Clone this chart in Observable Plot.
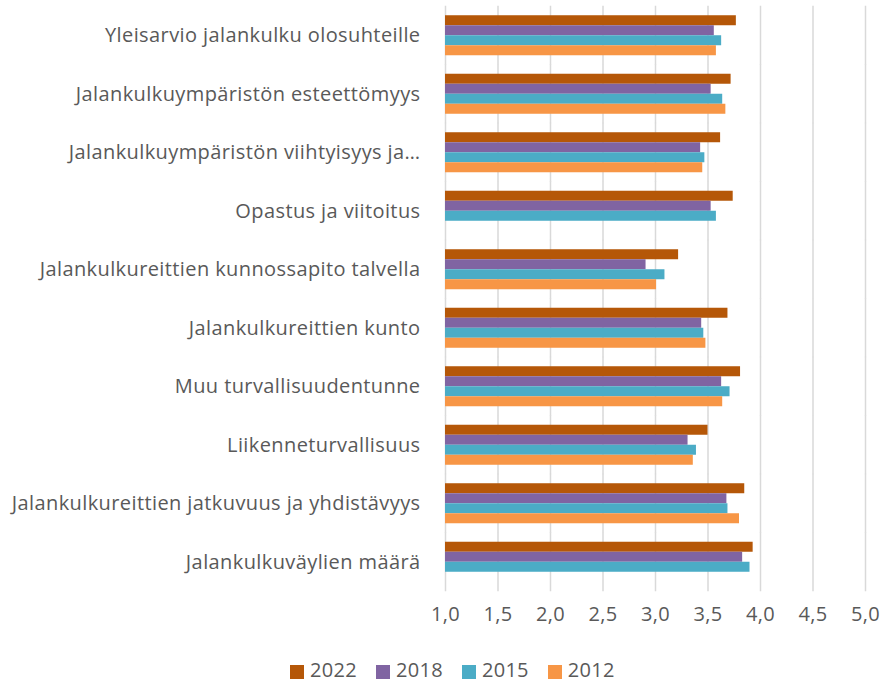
<!DOCTYPE html>
<html>
<head>
<meta charset="utf-8">
<script src="https://cdn.jsdelivr.net/npm/d3@7"></script>
<script src="https://cdn.jsdelivr.net/npm/@observablehq/plot@0.6"></script>
<style>
  html, body { margin: 0; padding: 0; background: #fff; overflow: hidden; }
  #wrap { position: relative; width: 883px; height: 684px; font-family: "Open Sans", sans-serif; }
  #chart svg text { letter-spacing: 0.4px; }
  #legend { position: absolute; top: 661px; left: 290px; height: 18px; line-height: 18px; display: flex; align-items: center; font-size: 20px; color: #595959; letter-spacing: 0.3px; }
  #legend .item { display: flex; align-items: center; margin-right: 19px; }
  #legend .sw { width: 14px; height: 14px; margin-right: 6px; margin-top: 3px; }
</style>
</head>
<body>
<div id="wrap"><div id="chart"></div><div id="legend"></div></div>
<script>
const categories = [
  "Yleisarvio jalankulku olosuhteille",
  "Jalankulkuympäristön esteettömyys",
  "Jalankulkuympäristön viihtyisyys ja…",
  "Opastus ja viitoitus",
  "Jalankulkureittien kunnossapito talvella",
  "Jalankulkureittien kunto",
  "Muu turvallisuudentunne",
  "Liikenneturvallisuus",
  "Jalankulkureittien jatkuvuus ja yhdistävyys",
  "Jalankulkuväylien määrä"
];
const years = ["2022", "2018", "2015", "2012"];
const values2022 = [3.77, 3.72, 3.62, 3.74, 3.22, 3.69, 3.81, 3.50, 3.85, 3.93];
const values2018 = [3.56, 3.53, 3.43, 3.53, 2.91, 3.44, 3.63, 3.31, 3.68, 3.83];
const values2015 = [3.63, 3.64, 3.47, 3.58, 3.09, 3.46, 3.71, 3.39, 3.69, 3.90];
const values2012 = [3.58, 3.67, 3.45, null, 3.01, 3.48, 3.64, 3.36, 3.80, null];
const xTicks = [1.0, 1.5, 2.0, 2.5, 3.0, 3.5, 4.0, 4.5, 5.0];
const colors = ["#b55708", "#8064a2", "#4bacc6", "#f79646"];

const series = {"2022": values2022, "2018": values2018, "2015": values2015, "2012": values2012};
const rows = [];
categories.forEach((c, i) => {
  years.forEach(y => {
    const v = series[y][i];
    if (v != null) rows.push({category: c, year: y, value: v});
  });
});

const chart = Plot.plot({
  width: 883,
  height: 650,
  marginLeft: 445,
  marginRight: 18,
  marginTop: 6,
  marginBottom: 59,
  style: {fontFamily: "'Open Sans', sans-serif", fontSize: "20px", color: "#595959", background: "#fff"},
  x: {domain: [1, 5], ticks: xTicks, tickFormat: d => d.toFixed(1).replace(".", ","), tickSize: 0, tickPadding: 25, label: null},
  y: {domain: years, axis: null, padding: 0, round: false},
  fy: {domain: categories, paddingInner: 0.316, paddingOuter: 0.158, round: false, tickSize: 0, tickPadding: 25, label: null},
  color: {domain: years, range: colors},
  marks: [
    Plot.ruleX(xTicks, {x: d => d, stroke: "#d9d9d9", strokeWidth: 1.5, insetTop: -9.5, insetBottom: -9.5}),
    Plot.barX(rows, {x1: 1, x2: "value", y: "year", fy: "category", fill: "year"})
  ]
});
document.getElementById("chart").appendChild(chart);

const legend = document.getElementById("legend");
years.forEach((y, i) => {
  const it = document.createElement("div");
  it.className = "item";
  const sw = document.createElement("div");
  sw.className = "sw";
  sw.style.background = colors[i];
  const t = document.createElement("span");
  t.textContent = y;
  it.appendChild(sw); it.appendChild(t);
  legend.appendChild(it);
});
</script>
</body>
</html>
